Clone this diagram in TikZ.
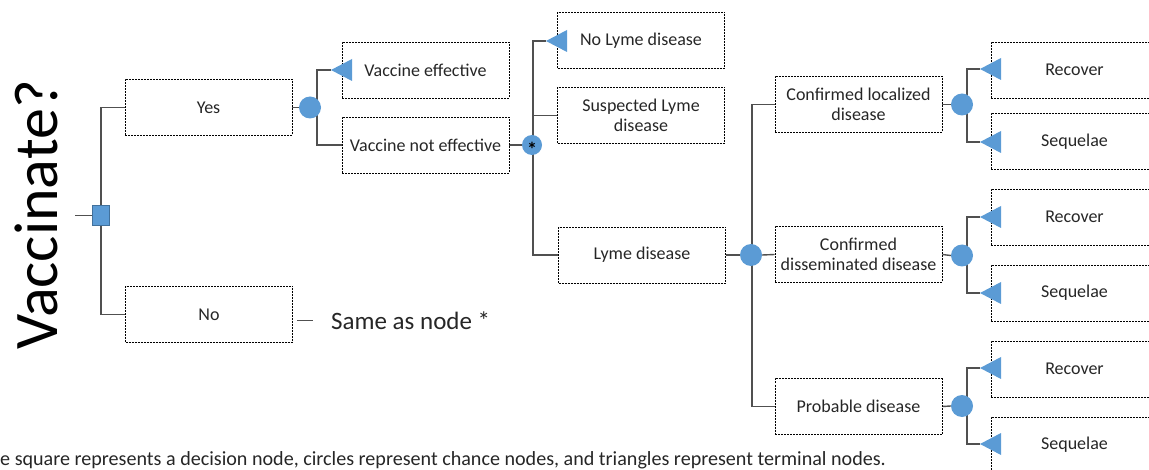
\documentclass[tikz,border=0pt]{standalone}
\usepackage{fontspec}
\setmainfont{Carlito}
\usetikzlibrary{backgrounds}
\definecolor{nodeblue}{HTML}{5B9BD5}
\definecolor{edgeblue}{HTML}{41719C}
\definecolor{linegray}{HTML}{505050}
\begin{document}
\begin{tikzpicture}[x=1pt,y=-1pt,
  box/.style={draw=black, line width=0.7pt, dash pattern=on 2pt off 1pt,
    minimum width=167pt, minimum height=56pt, inner sep=0pt, align=center,
    font=\fontsize{18}{20.5}\selectfont, text=black!85},
  conn/.style={draw=linegray, line width=1.4pt},
  chance/.style={circle, fill=nodeblue, minimum size=22pt, inner sep=0pt},
  decision/.style={rectangle, fill=nodeblue, draw=edgeblue, line width=0.8pt,
    minimum width=17pt, minimum height=20pt, inner sep=0pt},
  term/.style={fill=nodeblue}
]
\useasboundingbox (0,0) rectangle (1149,470);
\clip (0,0) rectangle (1149,470);

% title
\node[rotate=90, font=\fontsize{62}{70}\selectfont, inner sep=0pt] (title) at (36.5,215) {Vaccinate?};

% decision node and first boxes
\node[decision] (dec) at (101,215.5) {};
\coordinate (s0) at (75,215.5);
\node[box] (yes) at (208.5,107.5) {Yes};
\node[box] (no) at (209,314.5) {No};
\coordinate (d1) at (297,321);
\coordinate (d2) at (313,321);
\node[anchor=base west, inner sep=0pt, font=\fontsize{25}{28}\selectfont, text=black!85] (same) at (331,330) {Same as node *};

% vaccine chance
\node[chance] (c1) at (310,107.5) {};
\coordinate (j1) at (317,107.5);
\node[box] (veff) at (425.5,70) {Vaccine effective};
\node[box] (vneff) at (425.5,145) {Vaccine not effective};
\coordinate (t1) at (331,70);

% star chance
\node[chance, minimum size=20pt] (cs) at (532,145) {};
\node[font=\fontsize{20}{20}\selectfont\bfseries, inner sep=0pt, yshift=-4.5pt] (star) at (cs) {*};
\coordinate (j2) at (533,145);
\node[box] (nolyme) at (641,40.5) {No Lyme disease};
\node[box] (susp) at (641,115.5) {Suspected Lyme\\disease};
\node[box] (lyme) at (642,255) {Lyme disease};
\coordinate (t2) at (546,41);

% lyme chance
\node[chance] (c3) at (751,255) {};
\coordinate (j3) at (752,255);
\node[box] (cloc) at (858.5,104.5) {Confirmed localized\\disease};
\node[box] (cdis) at (858.5,254.5) {Confirmed\\disseminated disease};
\node[box] (prob) at (858.5,406.5) {Probable disease};

% outcome chances
\node[chance] (c4) at (962,104.5) {};
\node[chance] (c5) at (962,255.5) {};
\node[chance] (c6) at (962,406) {};
\coordinate (j4) at (967,104.5);
\coordinate (j5) at (967,255.5);
\coordinate (j6) at (967,406);

\node[box] (r1) at (1074.5,70) {Recover};
\node[box] (q1) at (1074.5,141.5) {Sequelae};
\node[box] (r2) at (1074.5,217) {Recover};
\node[box] (q2) at (1074.5,293) {Sequelae};
\node[box] (r3) at (1074.5,369) {Recover};
\node[box] (q3) at (1074.5,445) {Sequelae};

\coordinate (t4a) at (980,69);
\coordinate (t4b) at (980,142);
\coordinate (t5a) at (980,217);
\coordinate (t5b) at (980,293);
\coordinate (t6a) at (980,368);
\coordinate (t6b) at (980,444);

% caption
\node[anchor=base west, inner sep=0pt, font=\fontsize{20.1}{22}\selectfont, text=black!85] (cap) at (0,465.5)
  {e square represents a decision node, circles represent chance nodes, and triangles represent terminal nodes.};

% connectors
\begin{scope}[on background layer]
  \draw[conn] (s0) -- (dec.west);
  \draw[conn] (dec) |- (yes.west);
  \draw[conn] (dec) |- (no.west);
  \draw[conn, line width=1pt] (d1) -- (d2);
  \draw[conn] (yes.east) -- (c1.west);
  \draw[conn] (j1) |- (t1);
  \draw[conn] (j1) |- (vneff.west);
  \draw[conn] (vneff.east) -- (cs.west);
  \draw[conn] (j2) |- (t2);
  \draw[conn] (j2) |- (susp.west);
  \draw[conn] (j2) |- (lyme.west);
  \draw[conn, line width=2pt] (lyme.east) -- (c3.west);
  \draw[conn] (j3) |- (cloc.west);
  \draw[conn] (c3.east) -- (cdis.west);
  \draw[conn] (j3) |- (prob.west);
  \draw[conn] (cloc.east) -- (c4.west);
  \draw[conn] (cdis.east) -- (c5.west);
  \draw[conn] (prob.east) -- (c6.west);
  \draw[conn] (j4) |- (t4a);
  \draw[conn] (j4) |- (t4b);
  \draw[conn] (j5) |- (t5a);
  \draw[conn] (j5) |- (t5b);
  \draw[conn] (j6) |- (t6a);
  \draw[conn] (j6) |- (t6b);
\end{scope}

% terminal triangles
\foreach \t in {t1,t2,t4a,t4b,t5a,t5b,t6a,t6b}{
  \fill[term] (\t) -- ++(21,-11) -- ++(0,22) -- cycle;
}
\end{tikzpicture}
\end{document}
